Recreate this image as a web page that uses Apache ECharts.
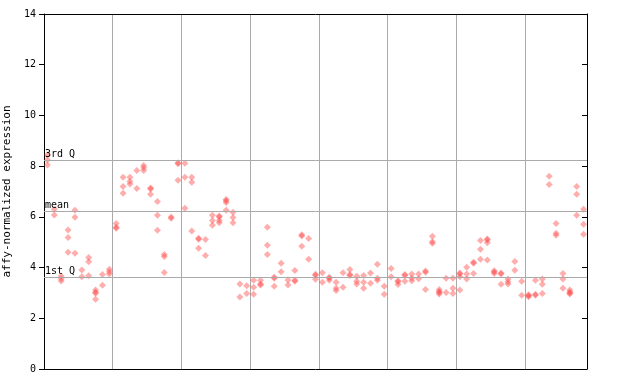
<!DOCTYPE html>
<html>
<head>
<meta charset="utf-8">
<script src="https://cdn.jsdelivr.net/npm/echarts@6/dist/echarts.min.js"></script>
<style>html,body{margin:0;padding:0;background:#fff}#c{width:640px;height:384px}</style>
</head>
<body>
<div id="c"></div>
<script>
// values per sample (x index = sample number)
const sampleValues = [
  [8.44, 8.24, 8.05], [6.30, 6.07], [3.67, 3.56, 3.47], [5.48, 5.19, 4.60], [6.26, 5.98, 4.56],
  [3.90, 3.64], [4.40, 4.23, 3.68], [3.12, 3.03, 2.99, 2.75], [3.73, 3.30], [3.93, 3.84, 3.75],
  [5.74, 5.59, 5.55], [7.56, 7.20, 6.93], [7.56, 7.39, 7.30], [7.83, 7.12], [8.03, 7.94, 7.83],
  [7.14, 7.10, 6.89], [6.61, 6.06, 5.47], [4.52, 4.44, 3.81], [5.99, 5.95], [8.13, 8.09, 7.44],
  [8.11, 7.56, 6.34], [7.56, 7.36, 5.44], [5.16, 5.12, 4.76], [5.11, 4.48], [6.06, 5.86, 5.67],
  [6.03, 5.99, 5.86, 5.77], [6.68, 6.64, 6.57, 6.26], [6.18, 5.97, 5.77], [3.35, 2.84], [3.28, 2.98],
  [3.50, 3.22, 2.95], [3.50, 3.35, 3.31], [5.59, 4.88, 4.52], [3.62, 3.58, 3.26], [4.17, 3.84],
  [3.51, 3.31], [3.88, 3.50, 3.46], [5.29, 5.25, 4.84], [5.15, 4.33], [3.74, 3.70, 3.54],
  [3.80, 3.42], [3.62, 3.58, 3.50], [3.42, 3.18, 3.10], [3.80, 3.22], [3.92, 3.73, 3.69],
  [3.66, 3.46, 3.35], [3.69, 3.42, 3.18], [3.79, 3.38], [4.13, 3.58, 3.50], [3.26, 2.95],
  [3.96, 3.64], [3.48, 3.44, 3.33], [3.73, 3.69, 3.46], [3.75, 3.58, 3.48], [3.75, 3.56],
  [3.86, 3.82, 3.14], [5.24, 5.02, 4.96], [3.14, 3.06, 3.02, 2.96], [3.58, 3.02], [3.58, 3.18, 2.98],
  [3.79, 3.75, 3.64, 3.12], [4.01, 3.75, 3.55], [4.21, 4.17, 3.77], [5.07, 4.72, 4.33], [5.13, 5.09, 4.98, 4.30],
  [3.87, 3.83, 3.77], [3.79, 3.75, 3.34], [3.55, 3.44, 3.35], [4.24, 3.89], [3.46, 2.91],
  [2.93, 2.89, 2.85], [3.50, 2.95, 2.91], [3.55, 3.34, 2.98], [7.60, 7.28], [5.74, 5.35, 5.27],
  [3.77, 3.55, 3.18], [3.12, 3.04, 3.00, 2.96], [7.20, 6.89, 6.06], [6.30, 5.71, 5.31]
];
const quartileNames = ['1st Q', 'mean', '3rd Q'];
const quartileValues = [3.63, 6.22, 8.23];
const yTicks = { min: 0, max: 14, step: 2 };
const groupSize = 10;
const yAxisTitle = 'affy-normalized expression';

const points = [];
sampleValues.forEach((vals, i) => vals.forEach(v => points.push([i, v])));
const nSamples = sampleValues.length;

const mono = 'DejaVu Sans Mono';
const chart = echarts.init(document.getElementById('c'), null, { renderer: 'canvas' });
chart.setOption({
  animation: false,
  backgroundColor: '#ffffff',
  grid: { left: 44, right: 53, top: 14, bottom: 15, containLabel: false, outerBoundsMode: 'none' },
  xAxis: [
    {
      type: 'value', min: -0.5, max: nSamples - 0.5,
      axisLine: { show: true, onZero: false, lineStyle: { color: '#000', width: 1 } },
      axisTick: { show: false }, axisLabel: { show: false }, splitLine: { show: false }
    },
    {
      type: 'value', position: 'top', min: 0, max: nSamples, interval: groupSize,
      axisLine: { show: true, onZero: false, lineStyle: { color: '#000', width: 1 } },
      axisTick: { show: false }, axisLabel: { show: false },
      splitLine: { show: true, lineStyle: { color: '#aaaaaa', width: 1 } }
    }
  ],
  yAxis: [
    {
      type: 'value', min: yTicks.min, max: yTicks.max, interval: yTicks.step,
      name: yAxisTitle, nameLocation: 'middle', nameGap: 27,
      nameTextStyle: { fontFamily: mono, fontSize: 11, color: '#000' },
      axisLine: { show: true, onZero: false, lineStyle: { color: '#000', width: 1 } },
      axisTick: { show: true, length: 5, lineStyle: { color: '#000' } },
      axisLabel: { fontFamily: mono, fontSize: 10, color: '#000', margin: 8 },
      splitLine: { show: false }
    },
    {
      type: 'value', position: 'right', min: yTicks.min, max: yTicks.max, interval: yTicks.step,
      axisLine: { show: true, onZero: false, lineStyle: { color: '#000', width: 1 } },
      axisTick: { show: true, inside: true, length: 5, lineStyle: { color: '#000' } },
      axisLabel: { show: false }, splitLine: { show: false }
    }
  ],
  series: [
    {
      type: 'scatter', xAxisIndex: 0, yAxisIndex: 0,
      data: points,
      symbol: 'diamond', symbolSize: 7,
      itemStyle: { color: 'rgba(255,70,70,0.55)' },
      markLine: {
        silent: true, symbol: 'none', animation: false,
        lineStyle: { color: '#aaaaaa', type: 'solid', width: 1 },
        label: {
          show: true, position: 'insideStartTop', distance: [1, 1],
          fontFamily: mono, fontSize: 10, color: '#000',
          formatter: p => p.name
        },
        data: quartileValues.map((v, i) => ({ yAxis: v, name: quartileNames[i] }))
      }
    }
  ]
});
</script>
</body>
</html>
